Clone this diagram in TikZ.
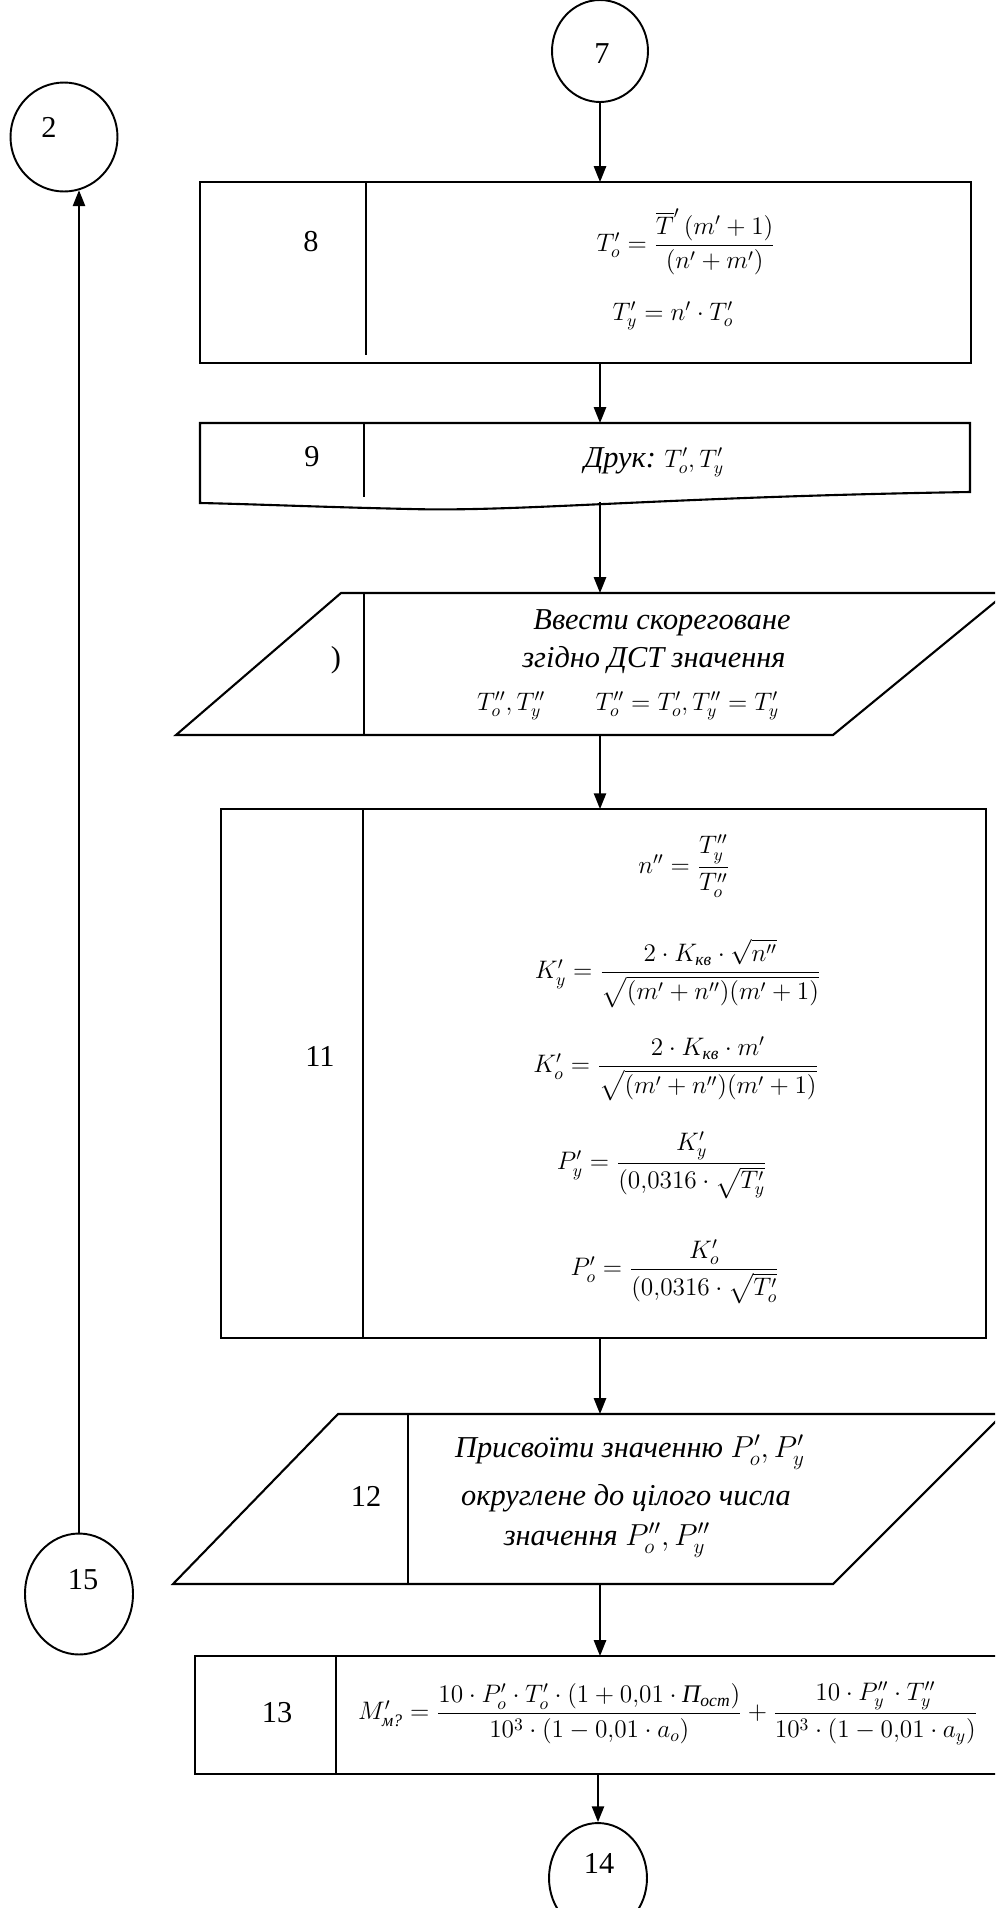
\documentclass[tikz,border=0pt]{standalone}
\usepackage{amsmath}
\usepackage{fontspec}
\setmainfont{Liberation Serif}
\usetikzlibrary{arrows.meta,shapes.geometric,calc}
\newcommand{\cyrit}[1]{\text{\itshape #1}}

\begin{document}
\begin{tikzpicture}[
        x=0.02cm, y=-0.02cm,
        >={Triangle[length=9pt,width=7pt]},
        line width=1pt,
        conn/.style={ellipse, draw, line width=1.1pt, inner sep=0pt},
        blk/.style={draw, line width=1.3pt, inner sep=0pt, outer sep=0pt},
        shp/.style={line width=1.2pt},
        num/.style={font=\LARGE},
        frm/.style={font=\Large},
        txt/.style={font=\LARGE\itshape},
        flow/.style={->, line width=0.9pt},
    ]
        \useasboundingbox (0,0) rectangle (995,1908);
        \clip (0,0) rectangle (995,1908);

        % Page connectors
        \node[conn, minimum width=1.92cm, minimum height=2.04cm] (c7) at (600,51) {};
        \node[num] (l7) at (602,54) {7};
        \node[conn, minimum width=2.14cm, minimum height=2.18cm] (c2) at (64,137) {};
        \node[num] (l2) at (49,127) {2};
        \node[conn, minimum width=2.16cm, minimum height=2.42cm] (c15) at (79,1594) {};
        \node[num] (l15) at (83,1580) {15};
        \node[conn, minimum width=1.96cm, minimum height=2.2cm] (c14) at (598,1878) {};
        \node[num] (l14) at (599,1863) {14};

        % Block 8
        \node[blk, minimum width=15.42cm, minimum height=3.62cm] (b8) at (585.5,272.5) {};
        \draw[shp] (366,182) -- (366,355);
        \node[num] (l8) at (311,242) {8};
        \node[frm] (f8a) at (686,242) {$T'_o=\dfrac{\overline{T}'\,(m'+1)}{(n'+m')}$};
        \node[frm] (f8b) at (673,316) {$T'_y=n'\cdot T'_o$};

        % Block 9 (document)
        \draw[shp] (200,423) -- (970,423) -- (970,492)
            .. controls (660,497) and (520,512) .. (410,509)
            .. controls (320,507) and (250,504) .. (200,503) -- cycle;
        \draw[shp] (364,423) -- (364,497);
        \coordinate (b9n) at (600,423);
        \coordinate (b9s) at (600,502);
        \node[num] (l9) at (312,457) {9};
        \node[frm] (f9) at (654,462) {{\LARGE\itshape Друк:} $T'_o,T'_y$};

        % Block 10 (input)
        \draw[shp] (176,735) -- (341,593) -- (1006,593) -- (833,735) -- cycle;
        \draw[shp] (364,593) -- (364,735);
        \coordinate (p10n) at (600,593);
        \coordinate (p10s) at (600,735);
        \node[num] (l10) at (336,660) {)};
        \node[txt] (t10a) at (662,623) {Ввести скореговане};
        \node[txt] (t10b) at (654,660) {згідно ДСТ значення};
        \node[frm] (t10c) at (628,706) {$T''_o,T''_y\qquad T''_o=T'_o,T''_y=T'_y$};

        % Block 11
        \node[blk, minimum width=15.3cm, minimum height=10.58cm] (b11) at (603.5,1073.5) {};
        \draw[shp] (363,809) -- (363,1338);
        \node[num] (l11) at (320,1056) {11};
        \node[frm] (f11a) at (684,866) {$n''=\dfrac{T''_y}{T''_o}$};
        \node[frm] (f11b) at (678,973) {$K'_y=\dfrac{2\cdot K_{\cyrit{кв}}\cdot\sqrt{n''}}{\sqrt{(m'+n'')(m'+1)}}$};
        \node[frm] (f11c) at (676,1069) {$K'_o=\dfrac{2\cdot K_{\cyrit{кв}}\cdot m'}{\sqrt{(m'+n'')(m'+1)}}$};
        \node[frm] (f11d) at (662,1165) {$P'_y=\dfrac{K'_y}{(0{,}0316\cdot\sqrt{T'_y}}$};
        \node[frm] (f11e) at (675,1272) {$P'_o=\dfrac{K'_o}{(0{,}0316\cdot\sqrt{T'_o}}$};

        % Block 12 (input)
        \draw[shp] (173,1584) -- (338,1414) -- (1003,1414) -- (833,1584) -- cycle;
        \draw[shp] (408,1414) -- (408,1584);
        \coordinate (p12n) at (600,1414);
        \coordinate (p12s) at (600,1584);
        \node[num] (l12) at (366,1496) {12};
        \node[txt] (t12a) at (630,1452) {Присвоїти значенню \upshape$P'_o,P'_y$};
        \node[txt] (t12b) at (626,1498) {округлене до цілого числа};
        \node[txt] (t12c) at (607,1540) {значення \upshape$P''_o,P''_y$};

        % Block 13
        \node[blk, minimum width=16.2cm, minimum height=2.36cm] (b13) at (600,1715) {};
        \draw[shp] (336,1656) -- (336,1774);
        \node[num] (l13) at (277,1713) {13};
        \node[frm] (f13) at (668,1713) {$M'_{\cyrit{м?}}=\dfrac{10\cdot P'_o\cdot T'_o\cdot(1+0{,}01\cdot\cyrit{П}_{\cyrit{ост}})}{10^3\cdot(1-0{,}01\cdot a_o)}+\dfrac{10\cdot P''_y\cdot T''_y}{10^3\cdot(1-0{,}01\cdot a_y)}$};

        % Flow lines
        \draw[flow] (c7.south) -- (c7.south |- b8.north);
        \draw[flow] (b8.south -| c7) -- (b9n);
        \draw[flow] (b9s) -- (p10n);
        \draw[flow] (p10s) -- (b11.north -| c7);
        \draw[flow] (b11.south -| c7) -- (p12n);
        \draw[flow] (p12s) -- (b13.north -| c7);
        \draw[flow] (b13.south -| c14) -- (c14.north);
        \draw[flow] (c15.north) -- (c15.north |- c2.-74);
    \end{tikzpicture}
\end{document}
